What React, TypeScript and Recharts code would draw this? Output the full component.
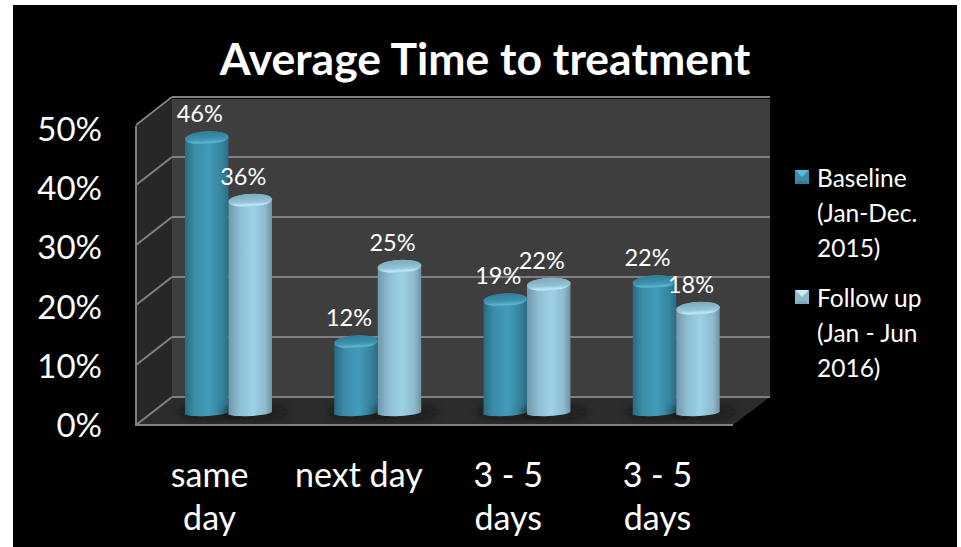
import React from 'react';
import { Bar, BarChart, CartesianGrid, LabelList, Legend, XAxis, YAxis } from 'recharts';

const chartTitle = 'Average Time to treatment';
const categories = ['same\nday', 'next day', '3 - 5\ndays', '3 - 5\ndays'];
const baselineValues = [46, 12, 19, 22];
const followUpValues = [36, 25, 22, 18];
const yTicks = [0, 10, 20, 30, 40, 50];
const baselineName = 'Baseline (Jan-Dec. 2015)';
const followUpName = 'Follow up (Jan - Jun 2016)';

const rows = categories.map((category, i) => ({
  category,
  baseline: baselineValues[i],
  followUp: followUpValues[i],
}));

const FONT = 'Lato, "Open Sans", sans-serif';
const GRID = '#808080';

// The room is a fixed box; the bars stand half way into its depth.
const BACK = { left: 172, right: 770, top: 99, bottom: 397 };
const FRONT = { left: 136, right: 733, top: 126, bottom: 425 };
const BACK_DROP = -17;
const FRONT_DROP = 11;

// The nearer series sits a touch lower in the perspective.
const FOLLOW_UP_DROP = 2.5;

const MARKER_COLOURS = [
  { side: '#3f8ba7', top: '#55bedb', bottom: '#2e7e99' },
  { side: '#8fb9ca', top: '#c6edf8', bottom: '#7ba8ba' },
];

function GridRow(props: any) {
  const { y1, index } = props;
  const backY = y1 + BACK_DROP;
  const frontY = y1 + FRONT_DROP;
  return (
    <g key={index}>
      <line x1={BACK.left} x2={BACK.right} y1={backY} y2={backY} stroke={GRID} strokeWidth={2} />
      <line x1={FRONT.left} x2={BACK.left} y1={frontY} y2={backY} stroke={GRID} strokeWidth={2} />
    </g>
  );
}

function YTick(props: any) {
  const { y, payload } = props;
  return (
    <text
      x={102}
      y={y + 23 + (414 - y) * 0.0133}
      textAnchor="end"
      fill="#fff"
      fontFamily={FONT}
      fontSize={33}
    >
      {`${payload.value}%`}
    </text>
  );
}

function XTick(props: any) {
  const { x, payload } = props;
  const lines = String(payload.value).split('\n');
  return (
    <text x={x - 19} textAnchor="middle" fill="#fff" fontFamily={FONT} fontSize={34}>
      {lines.map((line, i) => (
        <tspan key={i} x={x - 19} y={487 + i * 43}>
          {line}
        </tspan>
      ))}
    </text>
  );
}

function Cylinder(props: any) {
  const { x, y, width, height, bodyFill, capFill, drop = 0 } = props;
  const rx = width / 2;
  const ry = 6.5;
  const top = y + drop;
  const bottom = y + height;
  const body = [
    `M ${x} ${top}`,
    `A ${rx} ${ry} -3 0 1 ${x + width} ${top}`,
    `L ${x + width} ${bottom - 2}`,
    `A ${rx} 3.5 -3 0 1 ${x} ${bottom - 1}`,
    'Z',
  ].join(' ');
  return (
    <g>
      <path d={body} fill={bodyFill} />
      <ellipse cx={x + rx} cy={top} rx={rx} ry={ry} fill={capFill} transform={`rotate(-3 ${x + rx} ${top})`} />
    </g>
  );
}

function FloorShadow(props: any) {
  const { x, y, width, height } = props;
  return (
    <ellipse
      cx={x + width / 2 + 5}
      cy={y + height - 2}
      rx={width / 2 + 12}
      ry={6}
      fill="#111"
      opacity={0.6}
      filter="url(#floorShadow)"
    />
  );
}

function valueLabel(drop: number) {
  return function BarValue(props: any) {
    const { x, y, width, value } = props;
    return (
      <text
        x={x + width / 2 - 7}
        y={y - 16 + drop}
        textAnchor="middle"
        fill="#fff"
        fontFamily={FONT}
        fontSize={23.5}
      >
        {`${value}%`}
      </text>
    );
  };
}

function LegendMarker({ colours }: { colours: (typeof MARKER_COLOURS)[number] }) {
  return (
    <svg width={14} height={14} style={{ position: 'absolute', left: 6, top: 10 }}>
      <rect width={14} height={14} fill={colours.side} />
      <polygon points="0,0 14,0 7,7" fill={colours.top} />
      <polygon points="0,14 14,14 11,11 3,11" fill={colours.bottom} />
    </svg>
  );
}

function LegendBlock(props: any) {
  const items = props.payload ?? [];
  return (
    <div style={{ fontFamily: FONT, fontSize: 24.5, lineHeight: '35px', color: '#fff' }}>
      {items.map((item: any, i: number) => (
        <div key={item.value} style={{ position: 'relative', paddingLeft: 28, width: 112, marginBottom: i === 0 ? 15 : 0 }}>
          <LegendMarker colours={MARKER_COLOURS[i]} />
          {item.value}
        </div>
      ))}
    </div>
  );
}

export default function App() {
  return (
    <div style={{ position: 'absolute', left: 0, top: 0, width: 961, height: 547, background: '#fff', overflow: 'hidden' }}>
      <div style={{ position: 'absolute', left: 13, top: 5, width: 944, height: 542, background: '#000' }} />
      <div
        style={{
          position: 'absolute',
          left: 13,
          width: 944,
          top: 33,
          textAlign: 'center',
          color: '#fff',
          fontFamily: FONT,
          fontWeight: 700,
          fontSize: 44.5,
          lineHeight: '50px',
        }}
      >
        {chartTitle}
      </div>
      {/* room walls and floor */}
      <svg width={961} height={547} style={{ position: 'absolute', left: 0, top: 0 }}>
        <polygon
          points={`${BACK.left},${BACK.top} ${BACK.right},${BACK.top} ${BACK.right},${BACK.bottom} ${BACK.left},${BACK.bottom}`}
          fill="#3e3e3e"
        />
        <polygon
          points={`${FRONT.left},${FRONT.top} ${BACK.left},${BACK.top} ${BACK.left},${BACK.bottom} ${FRONT.left},${FRONT.bottom}`}
          fill="#272727"
        />
        <polygon
          points={`${FRONT.left},${FRONT.bottom} ${BACK.left},${BACK.bottom} ${BACK.right},${BACK.bottom} ${FRONT.right},${FRONT.bottom}`}
          fill="#2c2c2c"
        />
        <polyline
          points={`${FRONT.left},${FRONT.top} ${FRONT.left},${FRONT.bottom} ${FRONT.right},${FRONT.bottom}`}
          fill="none"
          stroke={GRID}
          strokeWidth={2}
        />
      </svg>
      <BarChart
        width={961}
        height={547}
        data={rows}
        margin={{ top: 114, right: 210, bottom: 33, left: 153 }}
        barSize={43.5}
        barGap={0}
        style={{ position: 'absolute', left: 0, top: 0 }}
      >
        <defs>
          <linearGradient id="baselineBody" x1="0" y1="0" x2="1" y2="0">
            <stop offset="0%" stopColor="#286a80" />
            <stop offset="22%" stopColor="#3a8ba7" />
            <stop offset="55%" stopColor="#429cba" />
            <stop offset="85%" stopColor="#35829c" />
            <stop offset="100%" stopColor="#2a6b82" />
          </linearGradient>
          <linearGradient id="baselineCap" x1="0" y1="0" x2="0" y2="1">
            <stop offset="0%" stopColor="#2f7d97" />
            <stop offset="60%" stopColor="#3e93ae" />
            <stop offset="85%" stopColor="#5db4cd" />
            <stop offset="100%" stopColor="#3c8faa" />
          </linearGradient>
          <linearGradient id="followBody" x1="0" y1="0" x2="1" y2="0">
            <stop offset="0%" stopColor="#7096a8" />
            <stop offset="25%" stopColor="#8dbdd2" />
            <stop offset="55%" stopColor="#9fd2e7" />
            <stop offset="85%" stopColor="#8cb9cd" />
            <stop offset="100%" stopColor="#6c8f9f" />
          </linearGradient>
          <linearGradient id="followCap" x1="0" y1="0" x2="0" y2="1">
            <stop offset="0%" stopColor="#7eaabc" />
            <stop offset="60%" stopColor="#92c2d6" />
            <stop offset="85%" stopColor="#bde8f6" />
            <stop offset="100%" stopColor="#98c9dd" />
          </linearGradient>
          <filter id="floorShadow" x="-30%" y="-100%" width="160%" height="300%">
            <feGaussianBlur stdDeviation="4" />
          </filter>
        </defs>
        <CartesianGrid vertical={false} horizontal={GridRow} stroke={GRID} />
        <XAxis
          dataKey="category"
          axisLine={false}
          tickLine={false}
          height={100}
          interval={0}
          allowDuplicatedCategory
          tick={XTick}
        />
        <YAxis
          domain={[0, 50]}
          ticks={yTicks}
          width={1}
          axisLine={false}
          tickLine={false}
          tick={YTick}
        />
        <Legend
          layout="vertical"
          align="center"
          verticalAlign="middle"
          content={LegendBlock}
          wrapperStyle={{ position: 'absolute', left: 789, top: 160, width: 150 }}
        />
        <Bar
          dataKey="baseline"
          name={baselineName}
          fill="#3a8ba7"
          isAnimationActive={false}
          shape={(p: any) => (
            <g>
              <FloorShadow {...p} />
              <Cylinder {...p} bodyFill="url(#baselineBody)" capFill="url(#baselineCap)" />
            </g>
          )}
        >
          <LabelList dataKey="baseline" content={valueLabel(0)} />
        </Bar>
        <Bar
          dataKey="followUp"
          name={followUpName}
          fill="#9fd2e7"
          isAnimationActive={false}
          shape={(p: any) => (
            <g>
              <FloorShadow {...p} />
              <Cylinder {...p} drop={FOLLOW_UP_DROP} bodyFill="url(#followBody)" capFill="url(#followCap)" />
            </g>
          )}
        >
          <LabelList dataKey="followUp" content={valueLabel(FOLLOW_UP_DROP)} />
        </Bar>
      </BarChart>
    </div>
  );
}
